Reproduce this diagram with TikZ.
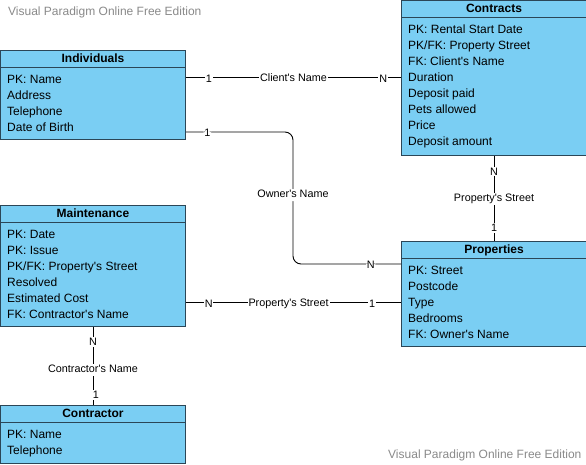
\documentclass[tikz,border=0pt]{standalone}
\usepackage{fontspec}
\setmainfont{Liberation Sans}
\usetikzlibrary{calc}
\definecolor{entfill}{HTML}{7ACEF3}
\definecolor{entdraw}{HTML}{2B4657}
\definecolor{wmgray}{HTML}{8A8A8A}
\newcommand\aps{\textquotesingle}
\tikzset{
  entbox/.style={draw=entdraw, fill=entfill, line width=1pt, inner sep=0pt, minimum width=185pt, anchor=north west},
  enthead/.style={font=\fontsize{12}{14}\selectfont\bfseries, inner sep=0pt, text height=8.6pt, text depth=2.5pt},
  entline/.style={draw=entdraw, line width=1pt},
  entrow/.style={font=\fontsize{12}{14}\selectfont, inner sep=0pt, anchor=west, text height=8.6pt, text depth=2.5pt},
  rel/.style={draw=black, line width=0.9pt},
  lbl/.style={font=\fontsize{10.8}{12}\selectfont, fill=white, inner sep=1pt, text height=7.8pt, text depth=2.2pt, yshift=-1pt},
  card/.style={font=\fontsize{10.8}{12}\selectfont, fill=white, inner sep=0.8pt, text height=7.8pt, text depth=0.5pt, yshift=-1pt},
  wm/.style={font=\fontsize{12}{14}\selectfont, text=wmgray, inner sep=0pt, anchor=west, text height=8.6pt, text depth=2.5pt}
}
\newcommand\entity[6]{%
  \node[entbox, minimum height=#4] (#1) at (#2,#3) {};
  \node[enthead] (#1-t) at ($(#1.north)+(0,9.3)$) {#5};
  \draw[entline] ($(#1.north west)+(0,17)$) -- ($(#1.north east)+(0,17)$);
  \foreach \r [count=\i] in {#6}
    \node[entrow] (#1-\i) at ($(#1.north west)+(7,30+16*\i-16)$) {\r};
}
\begin{document}
\begin{tikzpicture}[x=1pt, y=-1pt]
\useasboundingbox (0,0) rectangle (586,464);
\fill[white] (0,0) rectangle (586,464);

\node[wm] (wm1) at (8,12.5) {Visual Paradigm Online Free Edition};
\node[wm] (wm2) at (388,455.5) {Visual Paradigm Online Free Edition};

\entity{ind}{0}{50}{89pt}{Individuals}{PK: Name,Address,Telephone,Date of Birth}
\entity{con}{401}{0}{155pt}{Contracts}{PK: Rental Start Date,PK/FK: Property Street,FK: Client\aps s Name,Duration,Deposit paid,Pets allowed,Price,Deposit amount}
\entity{mai}{0}{205}{121pt}{Maintenance}{PK: Date,PK: Issue,PK/FK: Property\aps s Street,Resolved,Estimated Cost,FK: Contractor\aps s Name}
\entity{pro}{401}{241}{105pt}{Properties}{PK: Street,Postcode,Type,Bedrooms,FK: Owner\aps s Name}
\entity{ctr}{0}{405}{58pt}{Contractor}{PK: Name,Telephone}

% Client's Name
\coordinate (c1) at ($(ind.north east)+(0,27.5)$);
\draw[rel] (c1) -- node[card,pos=0.106]{1} node[lbl,pos=0.5]{Client\aps s Name} node[card,pos=0.917]{N} (c1 -| con.west);

% Owner's Name
\coordinate (o1) at ($(ind.south east)+(0,-8)$);
\coordinate (o2) at ($(pro.north west)+(0,23)$);
\coordinate (ov1) at (293,131);
\coordinate (ov2) at (293,264);
\draw[rel, rounded corners=8pt] (o1) -- node[card,pos=0.2]{1} (o1 -| ov1) -- node[lbl,pos=0.47]{Owner\aps s Name} (o2 -| ov2) -- node[card,pos=0.72]{N} (o2);

% Property's Street (Contracts - Properties)
\draw[rel] (con.south) -- node[card,pos=0.17]{N} node[lbl,pos=0.49]{Property\aps s Street} node[card,pos=0.83]{1} (pro.north);

% Property's Street (Maintenance - Properties)
\coordinate (m1) at ($(mai.north east)+(0,97.5)$);
\draw[rel] (m1) -- node[card,pos=0.106]{N} node[lbl,pos=0.477]{Property\aps s Street} node[card,pos=0.866]{1} (m1 -| pro.west);

% Contractor's Name
\draw[rel] (mai.south) -- node[card,pos=0.18]{N} node[lbl,pos=0.54]{Contractor\aps s Name} node[card,pos=0.86,xshift=3pt]{1} (ctr.north);
\end{tikzpicture}
\end{document}
